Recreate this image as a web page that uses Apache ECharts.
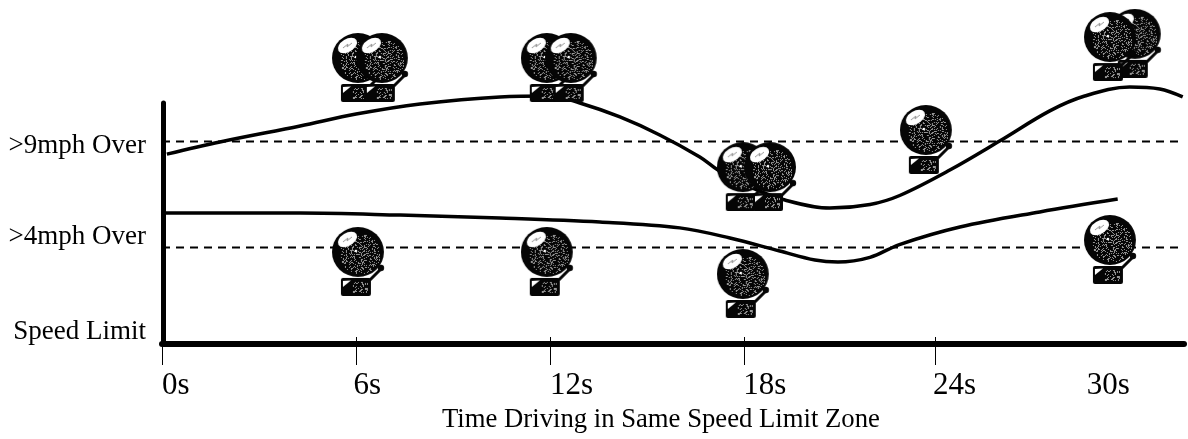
<!DOCTYPE html>
<html><head><meta charset="utf-8">
<style>html,body{margin:0;padding:0;background:#fff}#c{width:1188px;height:439px}</style>
<script src="https://cdn.jsdelivr.net/npm/echarts@6/dist/echarts.min.js"></script>
</head><body><div id="c"></div>
<script>
const tickSeconds = [0, 6, 12, 18, 23.9];
const labelSeconds = [0, 5.92, 12, 17.97, 23.84, 28.59];
const timeLabels = ['0s', '6s', '12s', '18s', '24s', '30s'];
const levelPositions = [0.55, 4.75, 8.8];
const levelLabels = ['Speed Limit', '>4mph Over', '>9mph Over'];
const thresholdHigh = 9;
const thresholdLow = 4.29;
const upperTime = [0.15,1.79,4.27,6,7.98,10.45,11.99,12.92,14.16,15.39,16.63,17.19,18.18,19.26,20.65,21.89,22.81,24.36,25.9,27.45,28.53,29.92,30.85,31.56];
const upperSpeed = [8.44,8.98,9.69,10.22,10.67,10.98,11.02,10.71,10.09,9.29,8.31,7.73,6.98,6.4,6.04,6.2,6.6,7.73,9.02,10.36,11.02,11.42,11.33,10.98];
const lowerTime = [0.09,4.27,7.36,10.45,13.54,16.01,17.56,19.1,20.19,20.9,21.89,22.8,24.67,27.14,29.55];
const lowerSpeed = [5.82,5.82,5.73,5.6,5.42,5.16,4.71,4.13,3.73,3.64,3.85,4.42,5.2,5.87,6.44];
const bellTime = [6.12,6.86,11.96,12.7,18.02,18.86,30.14,29.37,23.68,6.12,11.96,18.02,29.37];
const bellLevel = [12.29,12.29,12.29,12.29,7.44,7.44,13.36,13.22,9.09,3.67,3.67,2.69,4.2];

function zip(a, b) { return a.map((v, i) => [v, b[i]]); }

function bellImage() {
  const cv = document.createElement('canvas');
  cv.width = 56; cv.height = 69;
  const g = cv.getContext('2d');
  g.fillStyle = '#050505';
  // arm and knob
  g.strokeStyle = '#050505'; g.lineWidth = 3;
  g.beginPath(); g.moveTo(37, 54); g.lineTo(48, 43); g.stroke();
  g.beginPath(); g.arc(49, 41, 3.2, 0, 7); g.fill();
  // bell body
  g.beginPath(); g.ellipse(26, 25, 26, 25, 0, 0, 7); g.fill();
  // base
  g.beginPath(); g.roundRect(9, 51, 30, 18, 2); g.fill();
  // speckle, from a fixed hash of the pixel position
  const img = g.getImageData(0, 0, 56, 69), d = img.data;
  for (let y = 0; y < 69; y++) for (let x = 0; x < 56; x++) {
    const h = ((x * 73856093) ^ (y * 19349663)) >>> 0;
    const n = ((h ^ (h >>> 7)) * 2654435761 >>> 0) % 100;
    const inBody = Math.hypot(x - 28, y - 27) < 20;
    const inBase = x > 18 && x < 36 && y > 54 && y < 66;
    if ((inBody && n < 22) || (inBase && n < 18)) {
      const i = (y * 56 + x) * 4;
      d[i] = d[i + 1] = d[i + 2] = 150;
    }
  }
  g.putImageData(img, 0, 0);
  // highlights
  g.fillStyle = '#fff';
  g.save(); g.translate(15.5, 12.5); g.rotate(-0.55);
  g.beginPath(); g.ellipse(0, 0, 10.5, 6.5, 0, 0, 7); g.fill(); g.restore();
  g.strokeStyle = '#999'; g.lineWidth = 1;
  g.beginPath(); g.moveTo(11, 15); g.lineTo(16, 11); g.lineTo(15, 14); g.lineTo(20, 10); g.stroke();
  g.fillStyle = '#fff';
  g.beginPath(); g.arc(24, 24, 1.3, 0, 7); g.fill();
  g.beginPath(); g.moveTo(11, 54); g.lineTo(19, 53.5); g.lineTo(11, 60); g.fill();
  return cv.toDataURL();
}

const chart = echarts.init(document.getElementById('c'), null, { renderer: 'canvas' });
const serif = '"Liberation Serif", "Times New Roman", serif';
const bellSymbol = 'image://' + bellImage();
chart.setOption({
  animation: false,
  backgroundColor: '#fff',
  title: {
    text: 'Time Driving in Same Speed Limit Zone', left: 442, top: 406, padding: 0,
    textStyle: { fontFamily: serif, fontSize: 26.7, fontWeight: 'normal', color: '#000' }
  },
  grid: { left: 162, width: 1022, top: 103, height: 241 },
  xAxis: [{
    type: 'value', min: 0, max: 31.6, splitLine: { show: false },
    axisLine: { show: true, lineStyle: { color: '#000', width: 6 } },
    axisTick: { show: true, length: 21, customValues: tickSeconds, lineStyle: { color: '#000', width: 1 } },
    axisLabel: {
      customValues: labelSeconds, formatter: (v) => timeLabels[labelSeconds.indexOf(v)],
      fontFamily: serif, fontSize: 31, color: '#000', margin: 26, align: 'left', hideOverlap: false
    }
  }, {
    type: 'value', min: 0, max: 31.6, position: 'bottom', splitLine: { show: false },
    axisLine: { show: false },
    axisTick: { show: true, inside: true, length: 7, customValues: tickSeconds.slice(1), lineStyle: { color: '#000', width: 1 } },
    axisLabel: { show: false }
  }],
  yAxis: {
    type: 'value', min: 0, max: 10.71, offset: -1.5, splitLine: { show: false },
    axisLine: { show: true, onZero: false, lineStyle: { color: '#000', width: 5 } },
    axisTick: { show: false },
    axisLabel: {
      customValues: levelPositions, formatter: (v) => levelLabels[levelPositions.indexOf(v)],
      fontFamily: serif, fontSize: 27, color: '#000', margin: 17.5, align: 'right'
    }
  },
  series: [
    { type: 'line', name: 'threshold high', silent: true, showSymbol: false, z: 2,
      data: [[0, thresholdHigh], [31.6, thresholdHigh]],
      lineStyle: { color: '#000', width: 2, type: [8, 6] } },
    { type: 'line', name: 'threshold low', silent: true, showSymbol: false, z: 2,
      data: [[0, thresholdLow], [31.6, thresholdLow]],
      lineStyle: { color: '#000', width: 2, type: [8, 6] } },
    { type: 'line', name: 'upper', smooth: 0.35, showSymbol: false, clip: false, z: 3,
      data: zip(upperTime, upperSpeed), lineStyle: { color: '#000', width: 3.5 } },
    { type: 'line', name: 'lower', smooth: 0.35, showSymbol: false, clip: false, z: 3,
      data: zip(lowerTime, lowerSpeed), lineStyle: { color: '#000', width: 3.5 } },
    { type: 'scatter', name: 'bells', clip: false, z: 5, symbol: bellSymbol, symbolSize: [56, 69],
      data: zip(bellTime, bellLevel), itemStyle: { opacity: 1 } }
  ]
});
</script></body></html>
